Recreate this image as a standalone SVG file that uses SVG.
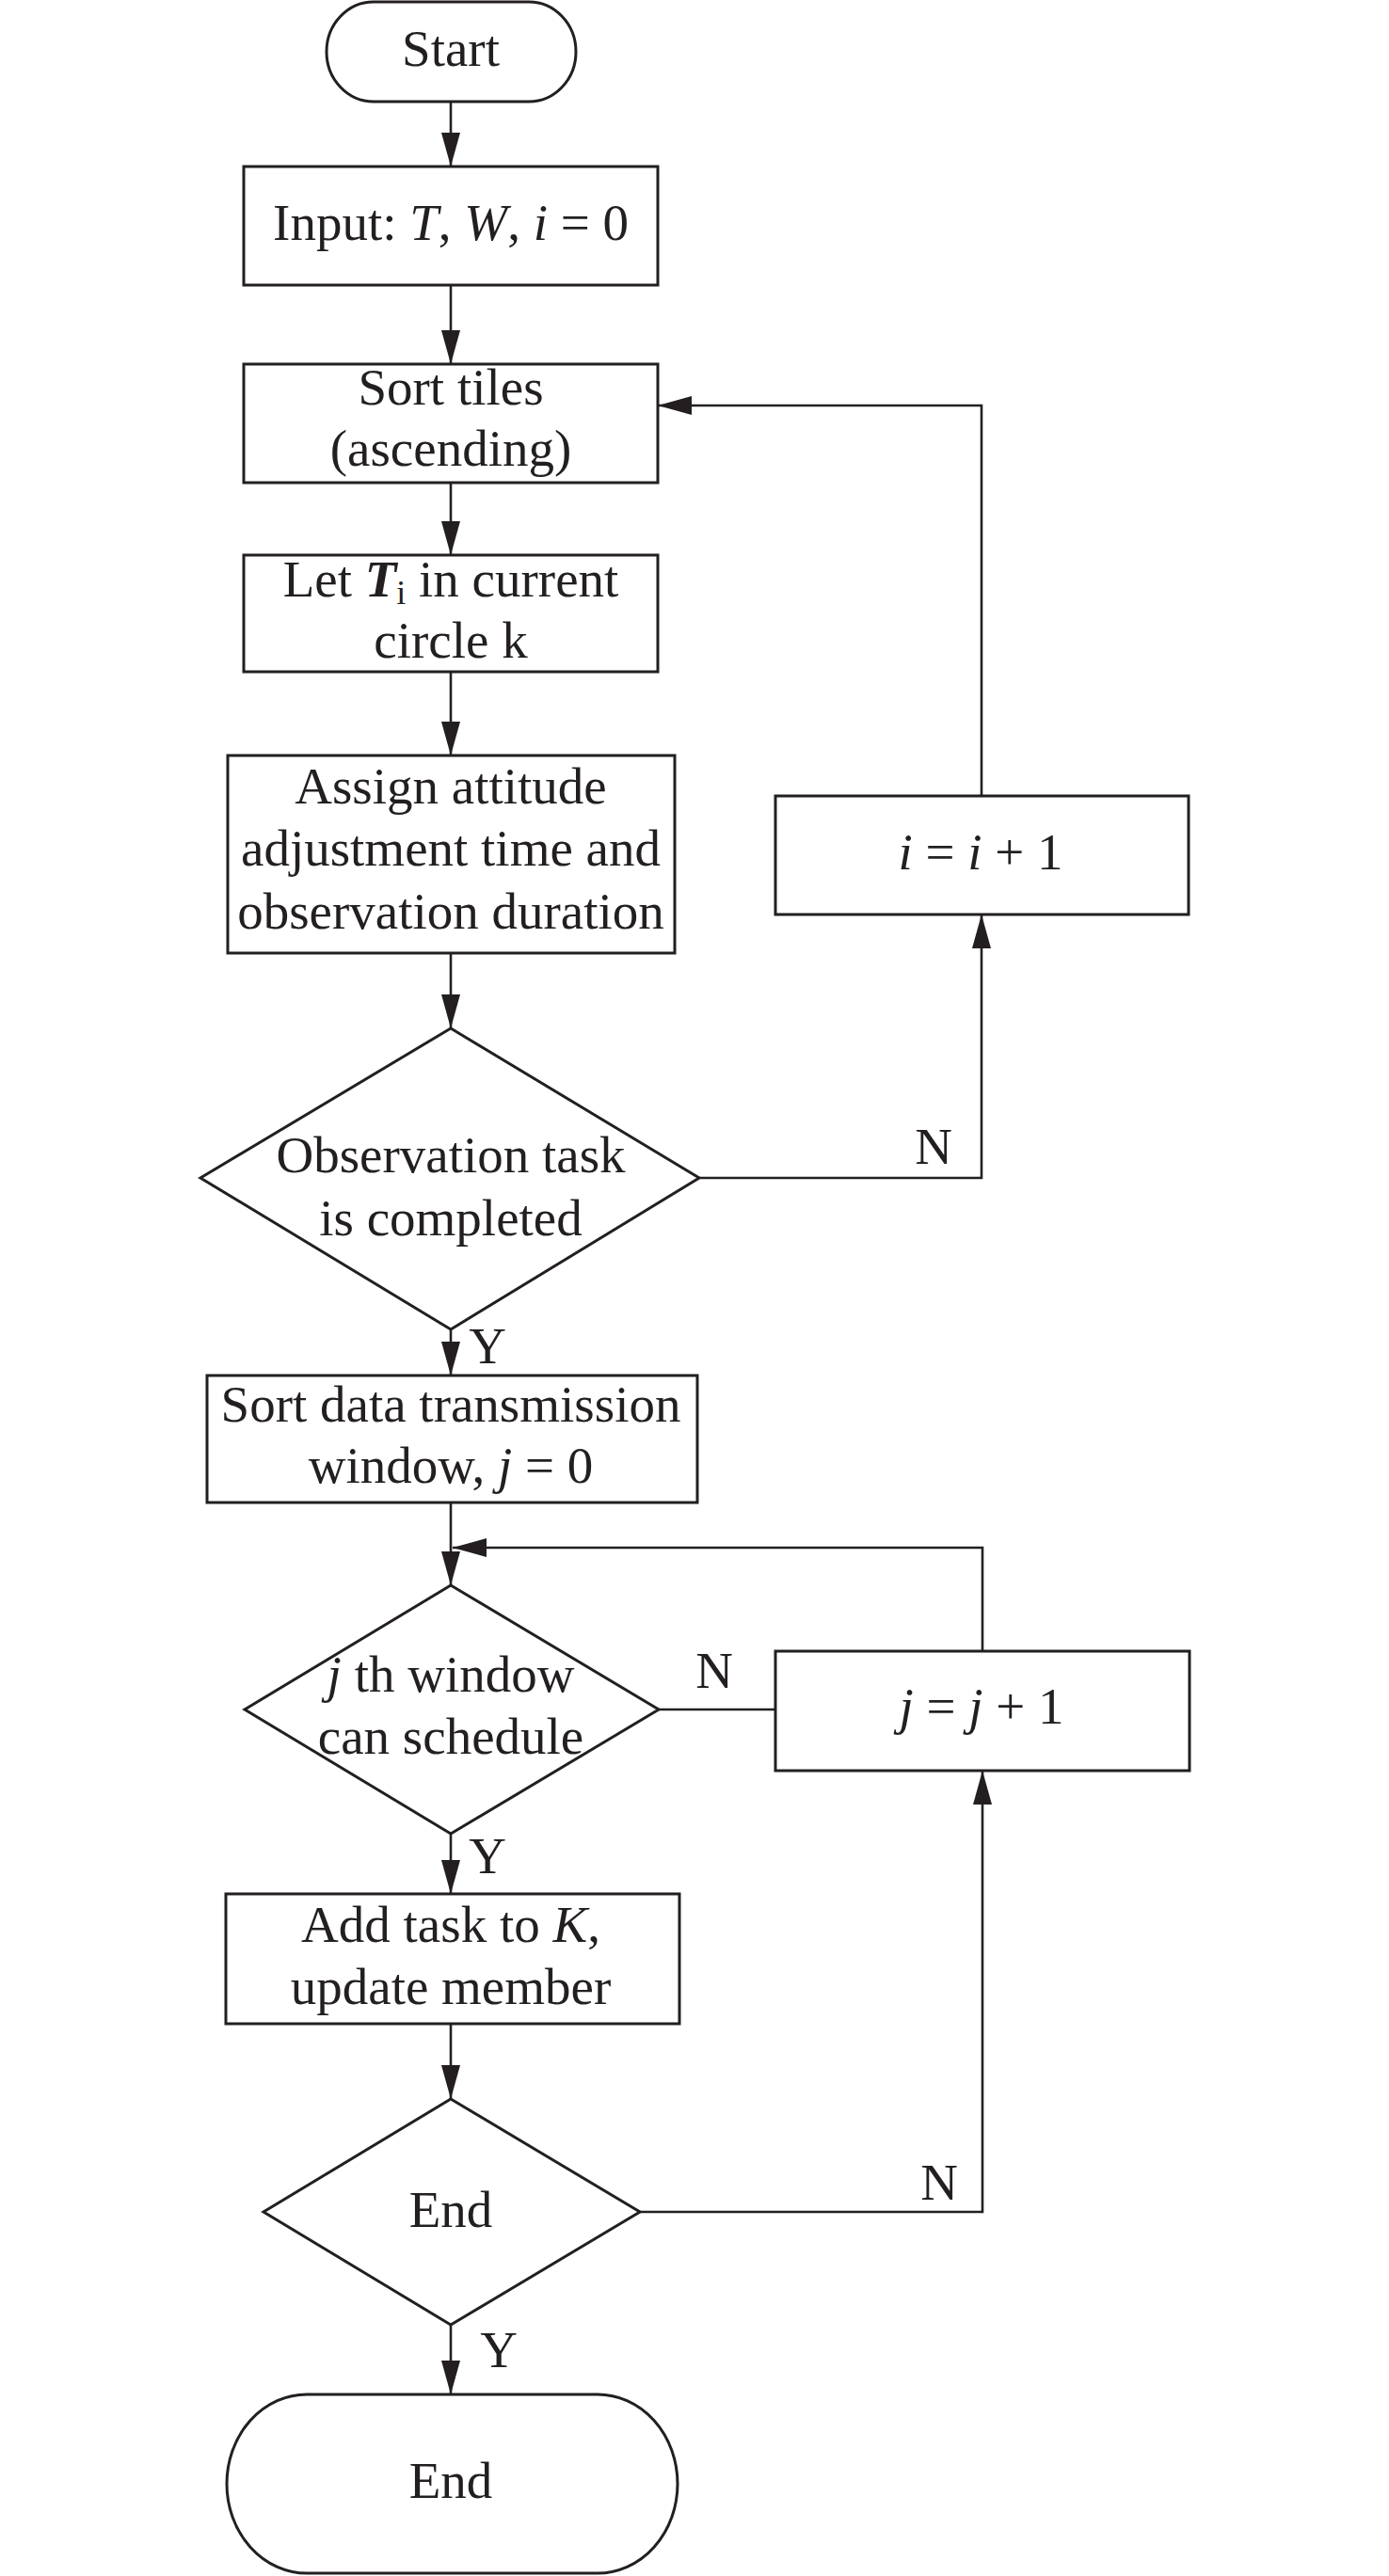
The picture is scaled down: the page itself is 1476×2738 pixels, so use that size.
<svg xmlns="http://www.w3.org/2000/svg" width="1476" height="2738" viewBox="0 0 1476 2738">
<style>
.box{fill:#fff;stroke:#231f20;stroke-width:3}
.ln{fill:none;stroke:#231f20;stroke-width:2.6}
.t{font-family:"Liberation Serif","Times New Roman",serif;font-size:55px;fill:#231f20;text-anchor:middle}
.it{font-style:italic}
</style>
<defs>
<marker id="ah" viewBox="0 0 36 20" refX="36" refY="10" markerWidth="36" markerHeight="20" markerUnits="userSpaceOnUse" orient="auto">
<path d="M0,0 L36,10 L0,20 Z" fill="#231f20"/>
</marker>
</defs>
<rect width="1476" height="2738" fill="#fff"/>
<g id="connectors">
<line class="ln" x1="479" y1="108" x2="479" y2="177" marker-end="url(#ah)"/>
<line class="ln" x1="479" y1="303" x2="479" y2="387" marker-end="url(#ah)"/>
<line class="ln" x1="479" y1="513" x2="479" y2="590" marker-end="url(#ah)"/>
<line class="ln" x1="479" y1="714" x2="479" y2="803" marker-end="url(#ah)"/>
<line class="ln" x1="479" y1="1013" x2="479" y2="1093" marker-end="url(#ah)"/>
<line class="ln" x1="479" y1="1413" x2="479" y2="1462" marker-end="url(#ah)"/>
<polyline class="ln" points="743,1252 1043,1252 1043,972" marker-end="url(#ah)"/>
<polyline class="ln" points="1043,846 1043,431 699,431" marker-end="url(#ah)"/>
<line class="ln" x1="479" y1="1597" x2="479" y2="1685" marker-end="url(#ah)"/>
<polyline class="ln" points="1044,1755 1044,1645 481,1645" marker-end="url(#ah)"/>
<line class="ln" x1="700" y1="1817" x2="824" y2="1817"/>
<line class="ln" x1="479" y1="1949" x2="479" y2="2013" marker-end="url(#ah)"/>
<line class="ln" x1="479" y1="2151" x2="479" y2="2231" marker-end="url(#ah)"/>
<polyline class="ln" points="680,2351 1044,2351 1044,1882" marker-end="url(#ah)"/>
<line class="ln" x1="479" y1="2471" x2="479" y2="2545" marker-end="url(#ah)"/>
<text class="t" x="992" y="1237">N</text>
<text class="t" x="518" y="1449">Y</text>
<text class="t" x="759" y="1794">N</text>
<text class="t" x="518" y="1991">Y</text>
<text class="t" x="998" y="2338">N</text>
<text class="t" x="530" y="2516">Y</text>
</g>
<g id="start">
<rect class="box" x="347" y="2" width="265" height="106" rx="50" ry="53"/>
<text class="t" x="479" y="70">Start</text>
</g>
<g id="input">
<rect class="box" x="259" y="177" width="440" height="126"/>
<text class="t" x="479" y="255">Input: <tspan class="it">T</tspan>, <tspan class="it">W</tspan>, <tspan class="it">i</tspan> = 0</text>
</g>
<g id="sort-tiles">
<rect class="box" x="259" y="387" width="440" height="126"/>
<text class="t" x="479" y="430">Sort tiles</text>
<text class="t" x="479" y="495">(ascending)</text>
</g>
<g id="let-ti">
<rect class="box" x="259" y="590" width="440" height="124"/>
<text class="t" x="479" y="634">Let <tspan class="it" font-weight="bold">T</tspan><tspan font-size="36" dy="8">i</tspan><tspan dy="-8"> in current</tspan></text>
<text class="t" x="479" y="699">circle k</text>
</g>
<g id="assign">
<rect class="box" x="242" y="803" width="475" height="210"/>
<text class="t" x="479" y="854">Assign attitude</text>
<text class="t" x="479" y="920">adjustment time and</text>
<text class="t" x="479" y="987">observation duration</text>
</g>
<g id="obs-completed">
<polygon class="box" points="479,1093 743,1252 479,1413 213,1252"/>
<text class="t" x="479" y="1246">Observation task</text>
<text class="t" x="479" y="1313">is completed</text>
</g>
<g id="i-inc">
<rect class="box" x="824" y="846" width="439" height="126"/>
<text class="t" x="1042" y="924"><tspan class="it">i</tspan> = <tspan class="it">i</tspan> + 1</text>
</g>
<g id="sort-data">
<rect class="box" x="220" y="1462" width="521" height="135"/>
<text class="t" x="479" y="1511">Sort data transmission</text>
<text class="t" x="479" y="1576">window, <tspan class="it">j</tspan> = 0</text>
</g>
<g id="jth-window">
<polygon class="box" points="479,1685 700,1817 479,1949 260,1817"/>
<text class="t" x="479" y="1798"><tspan class="it">j</tspan> th window</text>
<text class="t" x="479" y="1864">can schedule</text>
</g>
<g id="j-inc">
<rect class="box" x="824" y="1755" width="440" height="127"/>
<text class="t" x="1043" y="1832"><tspan class="it">j</tspan> = <tspan class="it">j</tspan> + 1</text>
</g>
<g id="add-task">
<rect class="box" x="240" y="2013" width="482" height="138"/>
<text class="t" x="479" y="2064">Add task to <tspan class="it">K</tspan>,</text>
<text class="t" x="479" y="2130">update member</text>
</g>
<g id="end-decision">
<polygon class="box" points="479,2231 680,2351 479,2471 280,2351"/>
<text class="t" x="479" y="2367">End</text>
</g>
<g id="end">
<rect class="box" x="241" y="2545" width="479" height="190" rx="85" ry="95"/>
<text class="t" x="479" y="2655">End</text>
</g>
</svg>
